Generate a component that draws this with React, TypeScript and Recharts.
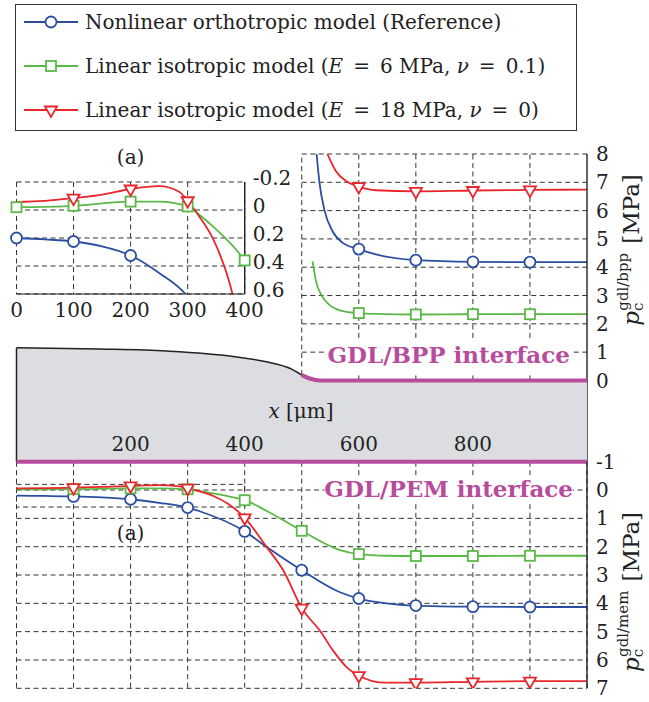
import React from 'react';
import {
  ComposedChart, Line, Area, XAxis, YAxis, CartesianGrid,
  ReferenceLine, ReferenceArea, ReferenceDot, Label, Legend,
} from 'recharts';

// ---------------- data ----------------
const seriesNames = [
  'Nonlinear orthotropic model (Reference)',
  'Linear isotropic model (E = 6 MPa, ν = 0.1)',
  'Linear isotropic model (E = 18 MPa, ν = 0)',
];

// GDL/PEM contact pressure (x in μm, MPa)
const memBlueX = [0, 50, 100, 150, 200, 250, 300, 321, 400, 438, 500, 567, 600, 649, 700, 800, 900, 1000];
const memBlueY = [0.2, 0.21, 0.225, 0.26, 0.325, 0.45, 0.62, 0.75, 1.46, 2.0, 2.83, 3.61, 3.83, 4.0, 4.08, 4.12, 4.13, 4.13];
const memGreenX = [0, 100, 200, 250, 300, 321, 345, 380, 400, 438, 500, 567, 600, 650, 700, 800, 900, 1000];
const memGreenY = [-0.02, -0.03, -0.06, -0.06, -0.025, 0.036, 0.12, 0.26, 0.36, 0.73, 1.44, 2.12, 2.26, 2.32, 2.33, 2.33, 2.32, 2.32];
const memRedX = [0, 50, 100, 150, 200, 250, 285, 300, 321, 345, 372, 400, 438, 468, 500, 532, 555, 579, 600, 643, 700, 800, 900, 1000];
const memRedY = [-0.057, -0.065, -0.085, -0.11, -0.15, -0.17, -0.13, -0.066, 0.05, 0.21, 0.5, 0.98, 2.0, 2.85, 4.17, 4.97, 5.67, 6.26, 6.55, 6.8, 6.8, 6.77, 6.75, 6.75];

// GDL/BPP contact pressure
const bppBlueX = [526, 531, 540, 554, 572, 600, 630, 700, 800, 900, 1000];
const bppBlueY = [8.0, 7.0, 6.0, 5.27, 4.86, 4.64, 4.45, 4.25, 4.19, 4.18, 4.18];
const bppGreenX = [519, 525, 534, 548, 572, 600, 630, 700, 800, 900, 1000];
const bppGreenY = [4.21, 3.51, 3.03, 2.68, 2.45, 2.38, 2.35, 2.33, 2.34, 2.34, 2.34];
const bppRedX = [545, 560, 578, 600, 630, 700, 800, 900, 1000];
const bppRedY = [8.0, 7.39, 7.04, 6.85, 6.72, 6.68, 6.71, 6.73, 6.74];

// GDL geometry (top boundary, in BPP-axis units)
const geomX = [0, 146, 263, 380, 438, 479, 500, 514, 532, 1000];
const geomY = [1.155, 1.11, 1.04, 0.85, 0.66, 0.43, 0.19, 0.07, 0, 0];

// ticks / markers
const mainXTicks = [200, 400, 600, 800];
const gridXTicks = [0, 100, 200, 300, 400, 500, 600, 700, 800, 900, 1000];
const bppTicks = [0, 1, 2, 3, 4, 5, 6, 7, 8];
const memTicks = [-1, 0, 1, 2, 3, 4, 5, 6, 7];
const insetXTicks = [0, 100, 200, 300, 400];
const insetYTicks = [-0.2, 0, 0.2, 0.4, 0.6];
const memMarkerX = [100, 200, 300, 400, 500, 600, 700, 800, 900];
const bppMarkerX = [600, 700, 800, 900];
const bppGridX = [600, 700, 800, 900];
const bppGridY = [1, 2, 3, 4, 5, 6, 7, 8];

// ---------------- style / layout ----------------
const FONT = '"DejaVu Serif", "Liberation Serif", serif';
const INK = '#222222';
const GRID = '#333333';
const BLUE = '#2b4fa0';
const GREEN = '#5ab946';
const RED = '#e8262b';
const MAGENTA = '#b84c9c';
const GRAY = '#dcdde0';
const DASH = '5 3.5';
const FS = 20;

const W = 649, H = 702;
const PX_L = 16.5, PX_R = 587;
const UP_T = 154, UP_B = 461.7;
const LOW_T = 461.7, LOW_B = 688.3;
const IN_L = 16.5, IN_R = 244.7, IN_T = 182, IN_B = 294;
const AX_W = 50;
const IN_XH = 30;
const UP_DOMAIN: [number, number] = [-2.87, 8];

const zip = (xs: number[], ys: number[]) => xs.map((x, i) => ({ x, y: ys[i] }));

const memBlue = zip(memBlueX, memBlueY);
const memGreen = zip(memGreenX, memGreenY);
const memRed = zip(memRedX, memRedY);
const bppBlue = zip(bppBlueX, bppBlueY);
const bppGreen = zip(bppGreenX, bppGreenY);
const bppRed = zip(bppRedX, bppRedY);
const geom = zip(geomX, geomY);
const geomEdge = geomX.indexOf(500);

const kinds = ['circle', 'square', 'triangle'];

function Marker({ kind, cx, cy, color }: { kind: string; cx: number; cy: number; color: string }) {
  if (kind === 'circle') return <circle cx={cx} cy={cy} r={5.5} fill="#fff" stroke={color} strokeWidth={1.8} />;
  if (kind === 'square') return <rect x={cx - 5} y={cy - 5} width={10} height={10} fill="#fff" stroke={color} strokeWidth={1.8} />;
  const r = 7;
  const pts = `${cx - r * 0.866},${cy - r / 2} ${cx + r * 0.866},${cy - r / 2} ${cx},${cy + r}`;
  return <polygon points={pts} fill="#fff" stroke={color} strokeWidth={1.8} strokeLinejoin="miter" />;
}

const makeDot = (kind: string, color: string, xs: number[], lo: number, hi: number) => (p: any) => {
  const { cx, cy, payload, index } = p;
  if (cx == null || cy == null || !payload || !xs.includes(payload.x) || payload.y < lo || payload.y > hi) {
    return <g key={`d${index}`} />;
  }
  return <Marker key={`d${index}`} kind={kind} cx={cx} cy={cy} color={color} />;
};

// italic math symbols and wider math spacing around "="
const fmt = (s: string) =>
  s.split(/(E(?= =)|ν(?= =)| = )/).map((part, i) => {
    if (part === 'E' || part === 'ν') return <i key={i}>{part}</i>;
    if (part === ' = ') return <span key={i} style={{ padding: '0 10px' }}>=</span>;
    return <React.Fragment key={i}>{part}</React.Fragment>;
  });

const LegendBox = (props: any) => {
  const payload = [...(props.payload || [])].sort(
    (a: any, b: any) => seriesNames.indexOf(String(a.value)) - seriesNames.indexOf(String(b.value))
  );
  return (
    <div style={{
      position: 'relative', width: 562, height: 127, boxSizing: 'border-box',
      border: '1.5px solid #333', background: '#fff', fontFamily: FONT, fontSize: 20, color: INK,
    }}>
      {payload.map((e: any, i: number) => {
        const k = kinds[seriesNames.indexOf(String(e.value))];
        return (
          <div key={i} style={{
            position: 'absolute', left: 8, top: 22 + 44 * i - 4 - 1.5 - 16, height: 32,
            display: 'flex', alignItems: 'center', whiteSpace: 'nowrap',
          }}>
            <svg width={54} height={20} style={{ display: 'block' }}>
              <line x1={0} x2={54} y1={10} y2={10} stroke={e.color} strokeWidth={1.8} />
              <Marker kind={k} cx={27} cy={10} color={e.color} />
            </svg>
            <span style={{ marginLeft: 7, lineHeight: '32px' }}>{fmt(String(e.value))}</span>
          </div>
        );
      })}
    </div>
  );
};

const tickStyle = { fontFamily: FONT, fontSize: FS, fill: INK };

const YTitle = (x: number, y: number, sup: string) => () => (
  <text x={x} y={y} transform={`rotate(-90 ${x} ${y})`} textAnchor="middle"
    fontFamily={FONT} fontSize={23} fill={INK}>
    <tspan fontStyle="italic">p</tspan>
    <tspan fontSize={15} dy={4}>c</tspan>
    <tspan fontSize={15} dx={-8} dy={-15}>{sup}</tspan>
    <tspan dy={11} dx={9}>[MPa]</tspan>
  </text>
);

const GeomTick = (p: any) => (
  <text x={p.x} y={p.y - 11} textAnchor="middle" fontFamily={FONT} fontSize={FS} fill={INK}>
    {p.payload.value}
  </text>
);

const InsetYTick = (p: any) => (
  <text x={p.x} y={p.y + 3} textAnchor="start" fontFamily={FONT} fontSize={FS} fill={INK}>
    {p.payload.value === 0 ? '0' : String(p.payload.value)}
  </text>
);

const XTitle = () => (
  <text x={301} y={418} textAnchor="middle" fontFamily={FONT} fontSize={FS} fill={INK}>
    <tspan fontStyle="italic">x</tspan> [μm]
  </text>
);

const layer: React.CSSProperties = { position: 'absolute', left: 0, top: 0 };

export default function App() {
  return (
    <div style={{ position: 'absolute', left: 0, top: 0, width: W, height: H, background: '#fff', fontFamily: FONT }}>
      {/* Upper: GDL/BPP pressure */}
      <div style={layer}>
        <ComposedChart width={W} height={H}
          margin={{ top: UP_T, bottom: H - UP_B, left: PX_L, right: W - PX_R - AX_W }}>
          <XAxis type="number" dataKey="x" domain={[0, 1000]} hide />
          <YAxis type="number" orientation="right" domain={UP_DOMAIN} ticks={bppTicks} interval={0}
            width={AX_W} tickSize={0} tickMargin={9} tickLine={false}
            axisLine={{ stroke: INK, strokeWidth: 1.4 }} tick={tickStyle} allowDataOverflow>
            <Label content={YTitle(639, 250, 'gdl/bpp')} />
          </YAxis>
          {bppGridY.map((v) => (
            <ReferenceLine key={'h' + v} segment={[{ x: 500, y: v }, { x: 1000, y: v }]}
              stroke={GRID} strokeDasharray={DASH} />
          ))}
          {bppGridX.map((v) => (
            <ReferenceLine key={'v' + v} segment={[{ x: v, y: 0 }, { x: v, y: 8 }]}
              stroke={GRID} strokeDasharray={DASH} />
          ))}
          <ReferenceLine segment={[{ x: 500, y: geomY[geomEdge] }, { x: 500, y: 8 }]}
            stroke={GRID} strokeDasharray={DASH} />
          <Line data={bppBlue} dataKey="y" type="monotone" stroke={BLUE} strokeWidth={1.8}
            dot={makeDot('circle', BLUE, bppMarkerX, 0, 8)} isAnimationActive={false} />
          <Line data={bppGreen} dataKey="y" type="monotone" stroke={GREEN} strokeWidth={1.8}
            dot={makeDot('square', GREEN, bppMarkerX, 0, 8)} isAnimationActive={false} />
          <Line data={bppRed} dataKey="y" type="monotone" stroke={RED} strokeWidth={1.8}
            dot={makeDot('triangle', RED, bppMarkerX, 0, 8)} isAnimationActive={false} />
        </ComposedChart>
      </div>

      {/* GDL geometry */}
      <div style={layer}>
        <ComposedChart width={W} height={H}
          margin={{ top: UP_T, bottom: H - UP_B - 1, left: PX_L, right: W - PX_R }}>
          <XAxis type="number" dataKey="x" domain={[0, 1000]} ticks={mainXTicks} interval={0}
            height={1} axisLine={false} tickLine={false} tickSize={0} tickMargin={0} tick={<GeomTick />}>
            <Label content={XTitle} />
          </XAxis>
          <YAxis type="number" domain={UP_DOMAIN} hide allowDataOverflow />
          <Area data={geom} dataKey="y" type="monotone" baseValue="dataMin" fill={GRAY} fillOpacity={1}
            stroke="none" isAnimationActive={false} />
          <Line data={geom.slice(0, geomEdge + 1)} dataKey="y" type="monotone" stroke={INK}
            strokeWidth={1.5} dot={false} isAnimationActive={false} />
          <Line data={geom.slice(geomEdge)} dataKey="y" type="monotone" stroke={MAGENTA}
            strokeWidth={4} dot={false} isAnimationActive={false} />
          <ReferenceLine segment={[{ x: 0, y: UP_DOMAIN[0] }, { x: 0, y: geomY[0] }]} stroke={INK} strokeWidth={1.5} />
          <ReferenceArea x1={540} x2={975} y1={0.3} y2={1.5} fill="#fff" fillOpacity={1} stroke="none">
            <Label value="GDL/BPP interface" position="center" fill={MAGENTA} fontSize={23}
              fontWeight="bold" fontFamily={FONT} />
          </ReferenceArea>
        </ComposedChart>
      </div>

      {/* Lower: GDL/PEM pressure */}
      <div style={layer}>
        <ComposedChart width={W} height={H}
          margin={{ top: LOW_T, bottom: H - LOW_B, left: PX_L, right: W - PX_R - AX_W }}>
          <CartesianGrid stroke={GRID} strokeDasharray={DASH} />
          <XAxis type="number" dataKey="x" domain={[0, 1000]} ticks={gridXTicks} hide />
          <YAxis type="number" orientation="right" reversed domain={[-1, 7]} ticks={memTicks} interval={0}
            width={AX_W} tickSize={0} tickMargin={9} tickLine={false}
            axisLine={{ stroke: INK, strokeWidth: 1.4 }} tick={tickStyle} allowDataOverflow>
            <Label content={YTitle(639, 592, 'gdl/mem')} />
          </YAxis>
          <ReferenceArea x1={0} x2={400} y1={-0.2} y2={0.6} fill="none" stroke={GRID} strokeDasharray={DASH} />
          <ReferenceArea x1={540} x2={975} y1={-0.5} y2={0.4} fill="#fff" fillOpacity={1} stroke="none">
            <Label value="GDL/PEM interface" position="center" fill={MAGENTA} fontSize={23}
              fontWeight="bold" fontFamily={FONT} />
          </ReferenceArea>
          <ReferenceLine y={-1} stroke={MAGENTA} strokeWidth={4} />
          <ReferenceDot x={200} y={1.5} r={0} fill="none" stroke="none">
            <Label value="(a)" position="center" fill={INK} fontSize={FS} fontFamily={FONT} />
          </ReferenceDot>
          <Line name={seriesNames[0]} legendType="circle" data={memBlue} dataKey="y" type="monotone"
            stroke={BLUE} strokeWidth={1.8} dot={makeDot('circle', BLUE, memMarkerX, -1, 7)} isAnimationActive={false} />
          <Line name={seriesNames[1]} legendType="square" data={memGreen} dataKey="y" type="monotone"
            stroke={GREEN} strokeWidth={1.8} dot={makeDot('square', GREEN, memMarkerX, -1, 7)} isAnimationActive={false} />
          <Line name={seriesNames[2]} legendType="triangle" data={memRed} dataKey="y" type="monotone"
            stroke={RED} strokeWidth={1.8} dot={makeDot('triangle', RED, memMarkerX, -1, 7)} isAnimationActive={false} />
          <Legend layout="vertical" align="center" verticalAlign="middle" content={LegendBox}
            wrapperStyle={{ left: 15, top: 4, width: 562, height: 127 }} />
        </ComposedChart>
      </div>

      {/* Inset (a) */}
      <div style={layer}>
        <ComposedChart width={W} height={H}
          margin={{ top: IN_T, bottom: H - IN_B - IN_XH, left: IN_L, right: W - IN_R - AX_W }}>
          <CartesianGrid stroke={GRID} strokeDasharray={DASH} />
          <XAxis type="number" dataKey="x" domain={[0, 400]} ticks={insetXTicks} interval={0}
            height={IN_XH} tickSize={0} tickMargin={9} tickLine={false}
            axisLine={{ stroke: INK, strokeWidth: 1.2 }} tick={tickStyle} />
          <YAxis type="number" orientation="right" reversed domain={[-0.2, 0.6]} ticks={insetYTicks} interval={0}
            width={AX_W} tickSize={0} tickMargin={8} tickLine={false} allowDataOverflow
            axisLine={{ stroke: INK, strokeWidth: 1.4 }} tick={<InsetYTick />} />
          <ReferenceDot x={200} y={-0.38} r={0} fill="none" stroke="none" ifOverflow="visible">
            <Label value="(a)" position="center" fill={INK} fontSize={FS} fontFamily={FONT} />
          </ReferenceDot>
          <Line data={memBlue.filter((d) => d.x <= 400)} dataKey="y" type="monotone" stroke={BLUE} strokeWidth={1.8}
            dot={makeDot('circle', BLUE, insetXTicks, -0.2, 0.6)} isAnimationActive={false} />
          <Line data={memGreen.filter((d) => d.x <= 400)} dataKey="y" type="monotone" stroke={GREEN} strokeWidth={1.8}
            dot={makeDot('square', GREEN, insetXTicks, -0.2, 0.6)} isAnimationActive={false} />
          <Line data={memRed.filter((d) => d.x <= 400)} dataKey="y" type="monotone" stroke={RED} strokeWidth={1.8}
            dot={makeDot('triangle', RED, insetXTicks.filter((v) => v > 0), -0.2, 0.6)} isAnimationActive={false} />
        </ComposedChart>
      </div>
    </div>
  );
}
